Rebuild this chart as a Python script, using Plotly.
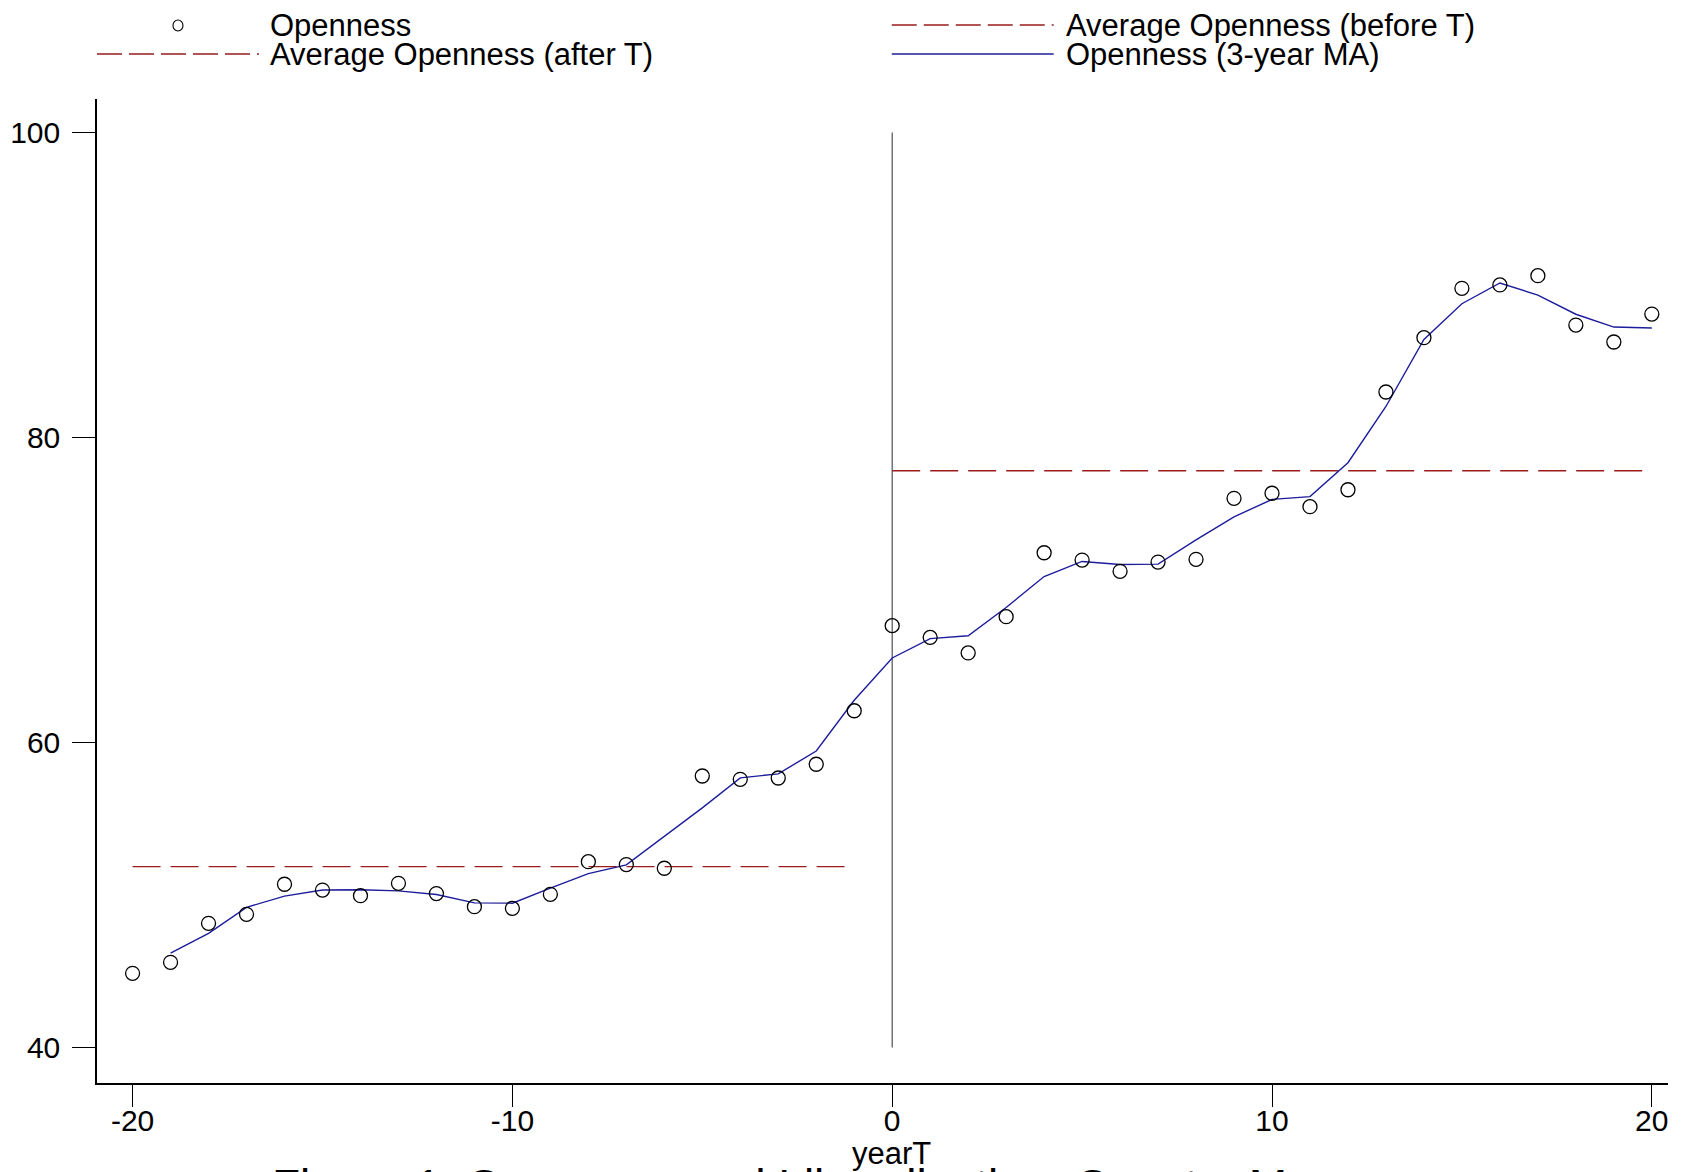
import plotly.graph_objects as go

# ---------------- data ----------------
years = [-20, -19, -18, -17, -16, -15, -14, -13, -12, -11, -10, -9, -8, -7, -6, -5, -4, -3, -2, -1,
         0, 1, 2, 3, 4, 5, 6, 7, 8, 9, 10, 11, 12, 13, 14, 15, 16, 17, 18, 19, 20]
openness = [44.87, 45.59, 48.15, 48.74, 50.71, 50.33, 49.96, 50.77, 50.10, 49.24, 49.13, 50.05,
            52.19, 52.00, 51.76, 57.81, 57.59, 57.68, 58.58, 62.09,
            67.67, 66.90, 65.88, 68.26, 72.45, 71.97, 71.23, 71.84, 72.02, 76.02, 76.35, 75.47,
            76.58, 82.99, 86.55, 89.79, 90.01, 90.62, 87.38, 86.27, 88.10]

ma_years = [-19, -18, -17, -16, -15, -14, -13, -12, -11, -10, -9, -8, -7, -6, -5, -4, -3, -2, -1,
            0, 1, 2, 3, 4, 5, 6, 7, 8, 9, 10, 11, 12, 13, 14, 15, 16, 17, 18, 19, 20]
openness_ma = [46.20, 47.49, 49.20, 49.93, 50.33, 50.35, 50.28, 50.04, 49.49, 49.47, 50.46, 51.41,
               51.98, 53.86, 55.72, 57.69, 57.95, 59.45, 62.78,
               65.55, 66.82, 67.01, 68.86, 70.89, 71.88, 71.68, 71.70, 73.29, 74.80, 75.95, 76.13,
               78.35, 82.04, 86.44, 88.78, 90.14, 89.34, 88.09, 87.25, 87.19]

avg_before_years = [-20, -19, -18, -17, -16, -15, -14, -13, -12, -11, -10, -9, -8, -7, -6, -5, -4, -3, -2, -1]
avg_before = 51.87
avg_after_years = [0, 1, 2, 3, 4, 5, 6, 7, 8, 9, 10, 11, 12, 13, 14, 15, 16, 17, 18, 19, 20]
avg_after = 77.83

vline_x = [0, 0]
vline_y = [40, 100]

x_ticks = [-20, -10, 0, 10, 20]
y_ticks = [40, 60, 80, 100]

legend_labels = ["Openness", "Average Openness (before T)",
                 "Average Openness (after T)", "Openness (3-year MA)"]
x_title = "yearT"
caption = "Figure 1: Openness and Liberalization: Country Mean"

# ---------------- styles / layout ----------------
W, H = 1690, 1172
PL, PR, PT, PB = 97, 1668.5, 99, 1083
FONT = "Liberation Sans, Arial, Helvetica, sans-serif"
RED = "#9b1c1c"
NAVY = "#1c1c9c"
DASH = "28px,10px"


def px_x(p):
    return (p - PL) / (PR - PL)


def px_y(p):
    return (PB - p) / (PB - PT)


fig = go.Figure()

fig.add_trace(go.Scatter(x=vline_x, y=vline_y, mode="lines",
                         line=dict(color="#505050", width=1.2), showlegend=False,
                         hoverinfo="skip"))
fig.add_trace(go.Scatter(x=avg_before_years, y=[avg_before] * len(avg_before_years), mode="lines",
                         line=dict(color=RED, width=1.4, dash=DASH), name=legend_labels[1],
                         showlegend=False))
fig.add_trace(go.Scatter(x=avg_after_years, y=[avg_after] * len(avg_after_years), mode="lines",
                         line=dict(color=RED, width=1.4, dash=DASH), name=legend_labels[2],
                         showlegend=False))
fig.add_trace(go.Scatter(x=ma_years, y=openness_ma, mode="lines",
                         line=dict(color=NAVY, width=1.4), name=legend_labels[3],
                         showlegend=False))
fig.add_trace(go.Scatter(x=years, y=openness, mode="markers",
                         marker=dict(symbol="circle-open", size=14, color="black",
                                     line=dict(width=1.3, color="black")),
                         name=legend_labels[0], showlegend=False))

# manual legend (layout decoration)
shapes = []
annotations = []
row1, row2 = px_y(25), px_y(54)
col1_line = (px_x(97), px_x(259))
col2_line = (px_x(892), px_x(1054))
col1_text, col2_text = px_x(268), px_x(1064)

# Openness marker sample
shapes.append(dict(type="circle", xref="paper", yref="paper",
                   x0=px_x(173), x1=px_x(183), y0=px_y(20), y1=px_y(31),
                   line=dict(color="black", width=1.1)))
# before T
shapes.append(dict(type="line", xref="paper", yref="paper", x0=col2_line[0], x1=col2_line[1],
                   y0=row1, y1=row1, line=dict(color=RED, width=1.6, dash="25px,7px")))
# after T
shapes.append(dict(type="line", xref="paper", yref="paper", x0=col1_line[0], x1=col1_line[1],
                   y0=row2, y1=row2, line=dict(color=RED, width=1.6, dash="25px,7px")))
# MA
shapes.append(dict(type="line", xref="paper", yref="paper", x0=col2_line[0], x1=col2_line[1],
                   y0=row2, y1=row2, line=dict(color=NAVY, width=1.6)))

for txt, xx, yy in [(legend_labels[0], col1_text, row1), (legend_labels[1], col2_text, row1),
                    (legend_labels[2], col1_text, row2), (legend_labels[3], col2_text, row2)]:
    annotations.append(dict(text=txt, x=xx, y=yy, xref="paper", yref="paper",
                            xanchor="left", yanchor="middle", showarrow=False,
                            font=dict(family=FONT, size=31, color="black")))

annotations.append(dict(text=x_title, x=px_x(892), y=px_y(1153), xref="paper", yref="paper",
                        xanchor="center", yanchor="middle", showarrow=False,
                        font=dict(family=FONT, size=31, color="black")))
annotations.append(dict(text=caption, x=px_x(270), y=px_y(1186), xref="paper", yref="paper",
                        xanchor="left", yanchor="middle", showarrow=False,
                        font=dict(family=FONT, size=46, color="black")))

fig.update_layout(
    width=W, height=H,
    margin=dict(l=PL, r=W - PR, t=PT, b=H - PB, pad=0, autoexpand=False),
    paper_bgcolor="white", plot_bgcolor="white",
    font=dict(family=FONT, size=30, color="black"),
    shapes=shapes, annotations=annotations,
    showlegend=False,
)
fig.update_xaxes(range=[-20 - (132.6 - PL) / 38.0, 20 + (PR - 1652.3) / 38.0],
                 automargin=False,
                 tickmode="array", tickvals=x_ticks, ticktext=[str(v) for v in x_ticks],
                 showgrid=False, zeroline=False, showline=True, linecolor="black", linewidth=1.5,
                 ticks="outside", ticklen=22, tickwidth=1.2, tickcolor="black",
                 tickfont=dict(family=FONT, size=30, color="black"), ticklabelstandoff=-12)
fig.update_yaxes(range=[40 - (PB - 1047.6) / 15.25, 100 + (132.6 - PT) / 15.25],
                 automargin=False,
                 tickmode="array", tickvals=y_ticks, ticktext=[str(v) for v in y_ticks],
                 showgrid=False, zeroline=False, showline=True, linecolor="black", linewidth=1.5,
                 ticks="outside", ticklen=23, tickwidth=1.2, tickcolor="black",
                 tickfont=dict(family=FONT, size=30, color="black"), ticklabelstandoff=6)

fig.write_html("out.html")
